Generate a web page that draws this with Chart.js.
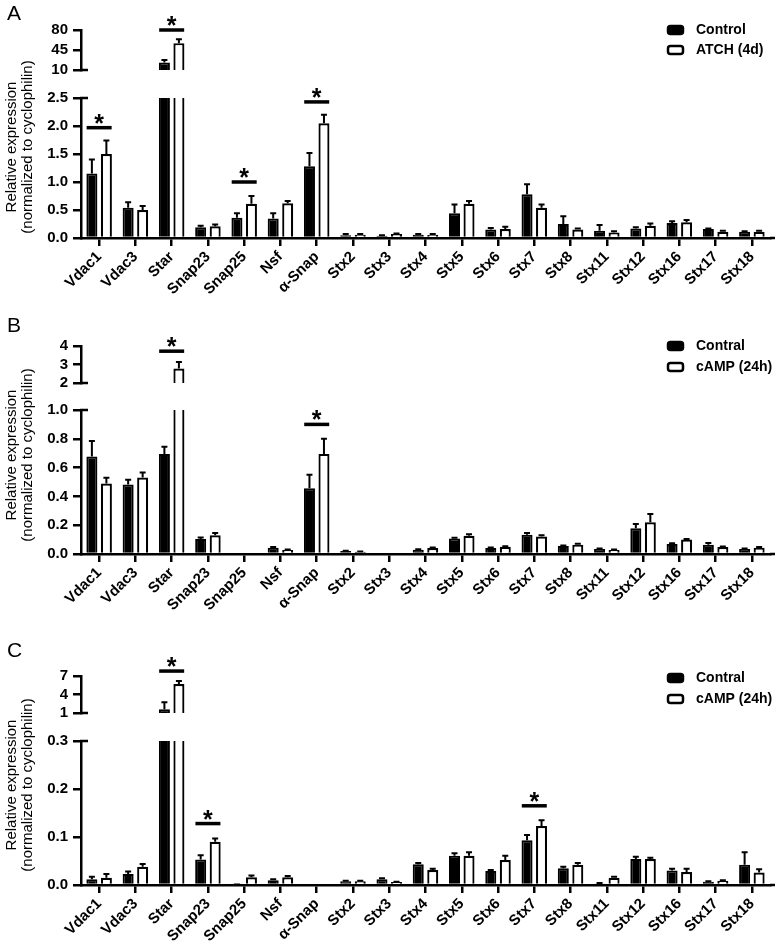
<!DOCTYPE html>
<html>
<head>
<meta charset="utf-8">
<script src="https://cdn.jsdelivr.net/npm/chart.js@4.4.1/dist/chart.umd.min.js"></script>
<style>
  body { margin: 0; background: #fff; overflow: hidden; }
  .panel { position: absolute; left: 0; width: 777px; }
  .panel canvas { position: absolute; left: 0; top: 0; }
</style>
</head>
<body>
<div class="panel" style="top:0;height:300px">
  <canvas id="aLow" width="777" height="300"></canvas>
  <canvas id="aUp" width="777" height="300"></canvas>
</div>
<div class="panel" style="top:295px;height:325px">
  <canvas id="bLow" width="777" height="325"></canvas>
  <canvas id="bUp" width="777" height="325"></canvas>
</div>
<div class="panel" style="top:615px;height:329px">
  <canvas id="cLow" width="777" height="329"></canvas>
  <canvas id="cUp" width="777" height="329"></canvas>
</div>
<script>
// genes (same for all 3 panels)
const genes = ['Vdac1', 'Vdac3', 'Star', 'Snap23', 'Snap25', 'Nsf', 'α-Snap', 'Stx2', 'Stx3', 'Stx4',
  'Stx5', 'Stx6', 'Stx7', 'Stx8', 'Stx11', 'Stx12', 'Stx16', 'Stx17', 'Stx18'];

// Panel A - Control vs ATCH (4d)
const ctrlA    = [1.15, 0.54, 23, 0.19, 0.36, 0.35, 1.28, 0.05, 0.04, 0.06, 0.44, 0.15, 0.78, 0.25, 0.13, 0.17, 0.27, 0.16, 0.11];
const ctrlErrA = [0.25, 0.10, 4.5, 0.03, 0.08, 0.09, 0.24, 0.02, 0.01, 0.01, 0.16, 0.03, 0.18, 0.14, 0.10, 0.02, 0.03, 0.01, 0.01];
const atchA    = [1.50, 0.50, 57, 0.21, 0.61, 0.62, 2.05, 0.06, 0.07, 0.06, 0.61, 0.16, 0.54, 0.15, 0.10, 0.22, 0.28, 0.11, 0.11];
const atchErrA = [0.24, 0.07, 7, 0.03, 0.14, 0.04, 0.15, 0.01, 0.01, 0.01, 0.05, 0.04, 0.06, 0.02, 0.02, 0.04, 0.04, 0.02, 0.02];
const sigGenesA = ['Vdac1', 'Star', 'Snap25', 'α-Snap'];
const sigLevelA = [1.97, 80, 1.0, 2.43];

// Panel B - Contral vs cAMP (24h)
const ctrlB    = [0.677, 0.483, 0.695, 0.104, null, 0.044, 0.457, 0.020, null, 0.030, 0.108, 0.042, 0.134, 0.055, 0.035, 0.178, 0.070, 0.065, 0.035];
const ctrlErrB = [0.108, 0.032, 0.050, 0.011, null, 0.005, 0.093, 0.003, null, 0.003, 0.004, 0.004, 0.011, 0.004, 0.003, 0.030, 0.004, 0.011, 0.003];
const campB    = [0.490, 0.531, 2.78, 0.130, null, 0.028, 0.695, 0.015, null, 0.042, 0.127, 0.050, 0.122, 0.065, 0.028, 0.220, 0.100, 0.048, 0.044];
const campErrB = [0.040, 0.035, 0.36, 0.015, null, 0.004, 0.105, 0.002, null, 0.004, 0.011, 0.004, 0.009, 0.006, 0.003, 0.057, 0.005, 0.004, 0.004];
const sigGenesB = ['Star', 'α-Snap'];
const sigLevelB = [3.72, 0.90];

// Panel C - Contral vs cAMP (24h)
const ctrlC    = [0.012, 0.023, 1.6, 0.053, 0.001, 0.010, null, 0.008, 0.012, 0.043, 0.061, 0.029, 0.093, 0.035, 0.003, 0.054, 0.030, 0.007, 0.042];
const ctrlErrC = [0.005, 0.005, 1.15, 0.009, 0.000, 0.002, null, 0.001, 0.002, 0.003, 0.005, 0.002, 0.011, 0.003, 0.001, 0.005, 0.004, 0.001, 0.026];
const campC    = [0.015, 0.038, 5.7, 0.090, 0.016, 0.016, null, 0.008, 0.006, 0.031, 0.061, 0.052, 0.123, 0.042, 0.015, 0.054, 0.027, 0.009, 0.026];
const campErrC = [0.008, 0.006, 0.5, 0.007, 0.004, 0.003, null, 0.001, 0.001, 0.003, 0.007, 0.009, 0.012, 0.004, 0.002, 0.003, 0.007, 0.001, 0.007];
const sigGenesC = ['Star', 'Snap23', 'Stx7'];
const sigLevelC = [7.8, 0.128, 0.165];

// axis ranges [min, max, step] (lower part / upper part of the broken axis)
const lowTicksA = [0, 2.5, 0.5], upTicksA = [10, 80, 35];
const lowTicksB = [0, 1.0, 0.2], upTicksB = [2, 4, 1];
const lowTicksC = [0, 0.3, 0.1], upTicksC = [1, 7, 3];

const FONT = "'Liberation Sans', Arial, sans-serif";
const X_AXIS_H = 58;
Chart.defaults.font.family = FONT;
Chart.defaults.color = '#000';

// error bars: mean + SEM, upward only
const errorBars = {
  id: 'errorBars',
  afterDatasetsDraw(chart) {
    const ctx = chart.ctx, a = chart.chartArea;
    ctx.save();
    ctx.beginPath();
    ctx.rect(a.left, a.top, a.right - a.left, a.bottom - a.top);
    ctx.clip();
    ctx.strokeStyle = '#000';
    ctx.lineWidth = 2;
    chart.data.datasets.forEach((ds, i) => {
      const meta = chart.getDatasetMeta(i);
      const y = chart.scales[meta.yAxisID];
      meta.data.forEach((bar, j) => {
        const v = ds.data[j];
        if (v == null || ds.errors[j] == null) return;
        const yTop = y.getPixelForValue(v + ds.errors[j]);
        ctx.beginPath();
        ctx.moveTo(bar.x, bar.y);
        ctx.lineTo(bar.x, yTop);
        ctx.moveTo(bar.x - 3, yTop);
        ctx.lineTo(bar.x + 3, yTop);
        ctx.stroke();
      });
    });
    ctx.restore();
  }
};

// significance lines with asterisk
const sigMarks = {
  id: 'sigMarks',
  afterDraw(chart, args, opts) {
    const ctx = chart.ctx, x = chart.scales.x, y = chart.scales.y;
    ctx.save();
    ctx.strokeStyle = '#000';
    ctx.fillStyle = '#000';
    ctx.lineWidth = 3.5;
    ctx.font = 'bold 25px ' + FONT;
    ctx.textAlign = 'center';
    ctx.textBaseline = 'alphabetic';
    opts.genes.forEach((g, k) => {
      const v = opts.levels[k];
      const inUpper = v > opts.lowMax;
      if (inUpper !== opts.upper) return;
      const px = x.getPixelForValue(genes.indexOf(g));
      const py = y.getPixelForValue(v);
      ctx.beginPath();
      ctx.moveTo(px - 12.5, py);
      ctx.lineTo(px + 12.5, py);
      ctx.stroke();
      ctx.fillText('*', px, py + 4);
    });
    ctx.restore();
  }
};

// panel letter, y title, legend and axis-break caps
const decor = {
  id: 'decor',
  afterDraw(chart, args, o) {
    const ctx = chart.ctx, a = chart.chartArea;
    ctx.save();
    ctx.strokeStyle = '#000';
    ctx.fillStyle = '#000';
    ctx.lineWidth = 2.5;
    ctx.beginPath();
    const capY = o.upper ? a.bottom : a.top;
    ctx.moveTo(a.left - 1, capY);
    ctx.lineTo(a.left + 7, capY);
    if (!o.upper) {
      ctx.moveTo(a.right, a.bottom);
      ctx.lineTo(a.right + 5, a.bottom);
    }
    ctx.stroke();
    if (o.upper) {
      // legend
      ctx.font = 'bold 14px ' + FONT;
      ctx.textAlign = 'left';
      ctx.textBaseline = 'middle';
      chart.data.datasets.forEach((ds, i) => {
        const ly = o.legendY[i];
        ctx.beginPath();
        ctx.roundRect(668, ly - 4, 15, 8, 2.5);
        ctx.fillStyle = ds.backgroundColor;
        ctx.fill();
        ctx.lineWidth = 2.5;
        ctx.stroke();
        ctx.fillStyle = '#000';
        ctx.fillText(ds.label, 696, ly);
      });
    } else {
      ctx.font = '21px ' + FONT;
      ctx.textAlign = 'left';
      ctx.textBaseline = 'alphabetic';
      ctx.fillText(o.letter, 7, o.letterY);
      ctx.font = '15px ' + FONT;
      ctx.textAlign = 'center';
      ctx.textBaseline = 'middle';
      ctx.translate(0, o.titleY);
      ctx.rotate(-Math.PI / 2);
      ctx.fillText('Relative expression', 0, 12);
      ctx.fillText('(normalized to cyclophilin)', 0, 28);
    }
    ctx.restore();
  }
};

function makeSets(names, ctrl, ctrlErr, trt, trtErr) {
  return [
    { label: names[0], data: ctrl, errors: ctrlErr, backgroundColor: '#000', borderColor: '#000', borderWidth: 2, clip: 0 },
    { label: names[1], data: trt, errors: trtErr, backgroundColor: '#fff', borderColor: '#000', borderWidth: 2.2, clip: 0 }
  ];
}

function yAxis(t, decimals) {
  return {
    min: t[0], max: t[1],
    afterFit: s => { s.width = 81; },
    border: { color: '#000', width: 2.5 },
    grid: { drawOnChartArea: false, color: '#000', lineWidth: 2.5, tickLength: 8 },
    ticks: {
      stepSize: t[2], padding: 5, color: '#000', autoSkip: false,
      font: { size: 15, weight: 'bold' },
      callback: v => decimals ? Number(v).toFixed(1) : v
    }
  };
}

function drawPanel(p) {
  const common = {
    type: 'bar',
    plugins: [errorBars, sigMarks, decor]
  };
  const base = {
    responsive: false,
    animation: false,
    events: [],
    datasets: { bar: { categoryPercentage: 0.8, barPercentage: 0.76 } }
  };
  // lower part, with the category axis
  new Chart(document.getElementById(p.id + 'Low'), Object.assign({}, common, {
    data: { labels: genes, datasets: makeSets(p.names, p.ctrl, p.ctrlErr, p.trt, p.trtErr) },
    options: Object.assign({}, base, {
      layout: { padding: { top: p.lowTop, bottom: p.h - p.lowBottom - X_AXIS_H, left: 0, right: 7 } },
      scales: {
        x: {
          afterFit: s => { s.height = X_AXIS_H; },
          border: { color: '#000', width: 2.5 },
          grid: { offset: false, drawOnChartArea: false, color: '#000', lineWidth: 2.5, tickLength: 8 },
          ticks: { autoSkip: false, maxRotation: 45, minRotation: 45, padding: 2, color: '#000', font: { size: 15, weight: 'bold' } }
        },
        y: yAxis(p.lowTicks, true)
      },
      plugins: {
        legend: { display: false },
        tooltip: { enabled: false },
        sigMarks: { genes: p.sigGenes, levels: p.sigLevels, lowMax: p.lowTicks[1], upper: false },
        decor: { upper: false, letter: p.letter, letterY: p.letterY, titleY: p.titleY }
      }
    })
  }));
  // upper part of the broken axis
  new Chart(document.getElementById(p.id + 'Up'), Object.assign({}, common, {
    data: { labels: genes, datasets: makeSets(p.names, p.ctrl, p.ctrlErr, p.trt, p.trtErr) },
    options: Object.assign({}, base, {
      layout: { padding: { top: p.upTop, bottom: p.h - p.upBottom, left: 0, right: 7 } },
      scales: {
        x: { display: false },
        y: yAxis(p.upTicks, false)
      },
      plugins: {
        legend: { display: false },
        tooltip: { enabled: false },
        sigMarks: { genes: p.sigGenes, levels: p.sigLevels, lowMax: p.lowTicks[1], upper: true },
        decor: { upper: true, legendY: p.legendY }
      }
    })
  }));
}

drawPanel({ id: 'a', h: 300, letter: 'A', letterY: 20, titleY: 147,
  names: ['Control', 'ATCH (4d)'], ctrl: ctrlA, ctrlErr: ctrlErrA, trt: atchA, trtErr: atchErrA,
  sigGenes: sigGenesA, sigLevels: sigLevelA, lowTicks: lowTicksA, upTicks: upTicksA,
  upTop: 30, upBottom: 70, lowTop: 98, lowBottom: 238, legendY: [30, 50] });

drawPanel({ id: 'b', h: 325, letter: 'B', letterY: 37, titleY: 160,
  names: ['Contral', 'cAMP (24h)'], ctrl: ctrlB, ctrlErr: ctrlErrB, trt: campB, trtErr: campErrB,
  sigGenes: sigGenesB, sigLevels: sigLevelB, lowTicks: lowTicksB, upTicks: upTicksB,
  upTop: 51, upBottom: 88, lowTop: 115, lowBottom: 259, legendY: [51, 72] });

drawPanel({ id: 'c', h: 329, letter: 'C', letterY: 42, titleY: 170,
  names: ['Contral', 'cAMP (24h)'], ctrl: ctrlC, ctrlErr: ctrlErrC, trt: campC, trtErr: campErrC,
  sigGenes: sigGenesC, sigLevels: sigLevelC, lowTicks: lowTicksC, upTicks: upTicksC,
  upTop: 61, upBottom: 98, lowTop: 126, lowBottom: 270, legendY: [63, 84] });
</script>
</body>
</html>
